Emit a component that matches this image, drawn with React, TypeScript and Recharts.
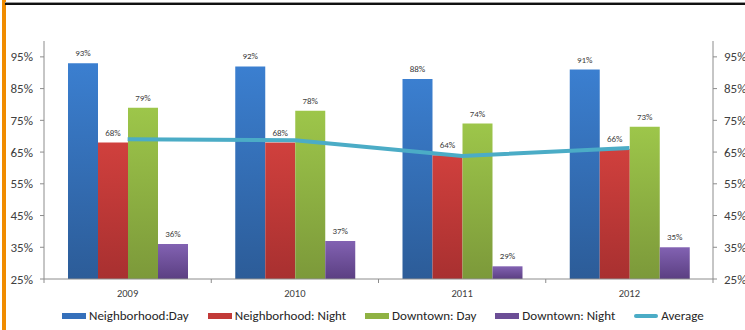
import React from 'react';
import { ComposedChart, Bar, Line, XAxis, YAxis, LabelList } from 'recharts';

const years = ['2009', '2010', '2011', '2012'];
const neighborhoodDay = [93, 92, 88, 91];
const neighborhoodNight = [68, 68, 64, 66];
const downtownDay = [79, 78, 74, 73];
const downtownNight = [36, 37, 29, 35];
const average = [69, 68.75, 63.75, 66.25];
const yTicks = [25, 35, 45, 55, 65, 75, 85, 95];

const data = years.map((year, i) => ({
  year,
  nDay: neighborhoodDay[i],
  nNight: neighborhoodNight[i],
  dDay: downtownDay[i],
  dNight: downtownNight[i],
  avg: average[i],
}));

const FONT = "Carlito, 'Liberation Sans Narrow', 'DejaVu Sans Condensed', 'Liberation Sans', sans-serif";
const AXIS = '#8c8c8c';

const legendItems = [
  { label: 'Neighborhood:Day', color: '#3570bb', type: 'rect' },
  { label: 'Neighborhood: Night', color: '#c23a38', type: 'rect' },
  { label: 'Downtown: Day', color: '#8fb243', type: 'rect' },
  { label: 'Downtown: Night', color: '#6c4e96', type: 'rect' },
  { label: 'Average', color: '#4bacc6', type: 'line' },
];

const ChartLegend = () => (
  <div
    style={{
      position: 'absolute', left: 62, top: 308, display: 'flex', alignItems: 'center',
      fontFamily: FONT, fontSize: 13, color: '#262626', whiteSpace: 'nowrap', lineHeight: '16px',
    }}
  >
    {legendItems.map((it) => (
      <div key={it.label} style={{ display: 'flex', alignItems: 'center', marginRight: 19 }}>
        <span
          style={{
            display: 'inline-block', width: 24, height: it.type === 'rect' ? 6 : 4,
            borderRadius: it.type === 'rect' ? 0 : 2, background: it.color, marginRight: 3,
          }}
        />
        <span>{it.label}</span>
      </div>
    ))}
  </div>
);

// year label plus tick marks on the band edges
const YearTick = (props: any) => {
  const { x, y, payload, index } = props;
  const band = (713 - 44) / years.length;
  return (
    <g>
      <line x1={x - band / 2} x2={x - band / 2} y1={y - 8} y2={y - 4} stroke={AXIS} />
      {index === years.length - 1 && (
        <line x1={x + band / 2} x2={x + band / 2} y1={y - 8} y2={y - 4} stroke={AXIS} />
      )}
      <text x={x} y={y + 10} textAnchor="middle" fontSize={10.5} fill="#404040" fontFamily={FONT}>
        {payload.value}
      </text>
    </g>
  );
};

const LeftTick = (props: any) => {
  const { x, y, payload } = props;
  return (
    <text x={x - 5} y={y} dy={4.5} textAnchor="end" fontSize={13} fill="#404040" fontFamily={FONT}>
      {`${payload.value}%`}
    </text>
  );
};

const RightTick = (props: any) => {
  const { x, y, payload } = props;
  return (
    <text x={x + 5} y={y} dy={4.5} textAnchor="start" fontSize={13} fill="#404040" fontFamily={FONT}>
      {`${payload.value}%`}
    </text>
  );
};

const labelProps = { position: 'top' as const, offset: 7, fontSize: 9, fill: '#404040', fontFamily: FONT, formatter: (v: any) => `${v}%` };

export default function App() {
  return (
    <div style={{ position: 'absolute', left: 0, top: 0, width: 745, height: 330, background: '#fff', overflow: 'hidden' }}>
      <style>{`body{margin:0}`}</style>
      <div style={{ position: 'absolute', left: 2, top: 0, width: 4, height: 330, background: '#f08c00' }} />
      <div style={{ position: 'absolute', left: 5, top: 2, width: 740, height: 1, background: '#9a9a9a' }} />
      <div style={{ position: 'absolute', left: 5, top: 3, width: 740, height: 2, background: '#111' }} />
      <ComposedChart
        width={745}
        height={330}
        data={data}
        margin={{ top: 41, right: 0, bottom: 0, left: 0 }}
        barSize={30}
        barGap={0}
      >
        <defs>
          <linearGradient id="gBlue" x1="0" y1="0" x2="0" y2="1">
            <stop offset="0%" stopColor="#3b7fd0" />
            <stop offset="100%" stopColor="#2c5c98" />
          </linearGradient>
          <linearGradient id="gRed" x1="0" y1="0" x2="0" y2="1">
            <stop offset="0%" stopColor="#d0403d" />
            <stop offset="100%" stopColor="#a83030" />
          </linearGradient>
          <linearGradient id="gGreen" x1="0" y1="0" x2="0" y2="1">
            <stop offset="0%" stopColor="#9dc64a" />
            <stop offset="100%" stopColor="#7c993a" />
          </linearGradient>
          <linearGradient id="gPurple" x1="0" y1="0" x2="0" y2="1">
            <stop offset="0%" stopColor="#8262b2" />
            <stop offset="100%" stopColor="#5b3f82" />
          </linearGradient>
        </defs>
        <XAxis
          dataKey="year"
          stroke={AXIS}
          tickLine={false}
          tick={<YearTick />}
          height={51}
          interval={0}
        />
        <YAxis
          yAxisId="left"
          domain={[25, 100]}
          ticks={yTicks}
          width={44}
          stroke={AXIS}
          tickSize={4}
          tick={<LeftTick />}
        />
        <YAxis
          yAxisId="right"
          orientation="right"
          domain={[25, 100]}
          ticks={yTicks}
          width={32}
          stroke={AXIS}
          tickSize={4}
          tick={<RightTick />}
        />
        <Bar yAxisId="left" dataKey="nDay" name="Neighborhood:Day" fill="url(#gBlue)" isAnimationActive={false}>
          <LabelList dataKey="nDay" {...labelProps} />
        </Bar>
        <Bar yAxisId="left" dataKey="nNight" name="Neighborhood: Night" fill="url(#gRed)" isAnimationActive={false}>
          <LabelList dataKey="nNight" {...labelProps} />
        </Bar>
        <Bar yAxisId="left" dataKey="dDay" name="Downtown: Day" fill="url(#gGreen)" isAnimationActive={false}>
          <LabelList dataKey="dDay" {...labelProps} />
        </Bar>
        <Bar yAxisId="left" dataKey="dNight" name="Downtown: Night" fill="url(#gPurple)" isAnimationActive={false}>
          <LabelList dataKey="dNight" {...labelProps} />
        </Bar>
        <Line
          yAxisId="right"
          dataKey="avg"
          name="Average"
          stroke="#4bacc6"
          strokeWidth={4}
          dot={false}
          type="linear"
          isAnimationActive={false}
        />
      </ComposedChart>
      <ChartLegend />
    </div>
  );
}
